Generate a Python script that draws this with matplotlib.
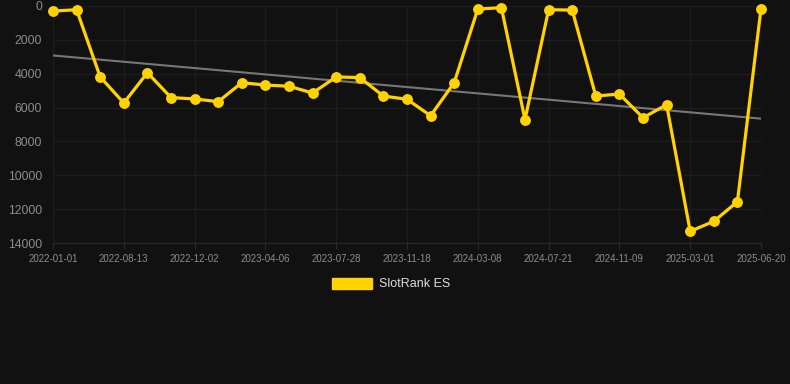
import numpy as np
import matplotlib
matplotlib.use("Agg")
import matplotlib.pyplot as plt
from matplotlib.patches import Patch

plt.rcParams["font.family"] = ["Liberation Sans", "DejaVu Sans"]

tick_labels = ["2022-01-01", "2022-08-13", "2022-12-02", "2023-04-06", "2023-07-28",
               "2023-11-18", "2024-03-08", "2024-07-21", "2024-11-09", "2025-03-01",
               "2025-06-20"]
ranks = [300, 220, 4190, 5730, 3940, 5410, 5490, 5650, 4530, 4670, 4740,
         5140, 4190, 4230, 5320, 5510, 6480, 4530, 180, 100, 6710,
         220, 240, 5320, 5200, 6600, 5830, 13310, 12720, 11560, 160]
series_name = "SlotRank ES"

BG = "#111111"
YELLOW = "#ffd200"

fig = plt.figure(figsize=(7.9, 3.84), dpi=100, facecolor=BG)
ax = fig.add_axes([53/790, 1-243/384, (761-53)/790, (243-6)/384], facecolor=BG)

x = np.arange(len(ranks))
coef = np.polyfit(x, ranks, 1)
ax.plot(x, np.polyval(coef, x), color="#777777", lw=1.5, zorder=2)
ax.plot(x, ranks, color=YELLOW, lw=2.3, marker="o", ms=6.8, zorder=3, clip_on=False)

ax.set_xlim(0, len(ranks) - 1)
ax.set_ylim(14000, 0)
ax.set_yticks(np.arange(0, 14001, 2000))
ax.set_xticks(np.arange(0, len(ranks), 3))
ax.set_xticklabels(tick_labels)

ax.grid(True, color="#1c1c1c", lw=1)
for s in ["top", "right", "left"]:
    ax.spines[s].set_visible(False)
ax.spines["bottom"].set_color("#2a2a2a")
ax.tick_params(axis="y", length=0, pad=8, labelsize=8.8, labelcolor="#8c8c8c")
ax.tick_params(axis="x", length=4, color="#2a2a2a", pad=4, labelsize=7, labelcolor="#8c8c8c")

leg = fig.legend(handles=[Patch(facecolor=YELLOW, edgecolor=YELLOW, label=series_name)],
                 loc="center", bbox_to_anchor=(391/790, 1-284/384), frameon=False,
                 handlelength=3.2, handleheight=1.0, fontsize=9, labelcolor="#dddddd",
                 handletextpad=0.6)

fig.savefig("out.png", dpi=100, facecolor=BG)
